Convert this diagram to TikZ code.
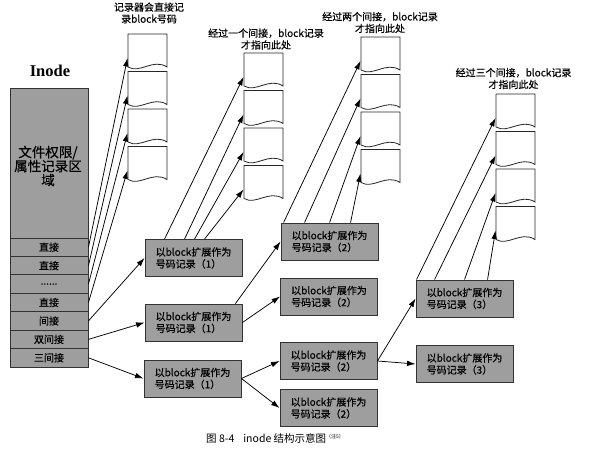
\documentclass[tikz,border=0pt]{standalone}
\usepackage{fontspec}
\setmainfont{Noto Sans CJK SC}[FakeBold=0.5]
\newfontfamily\capfont{Noto Sans CJK SC}
\newfontfamily\titlefont{Liberation Serif}
\usetikzlibrary{arrows.meta}
\begin{document}
\begin{tikzpicture}[x=1pt,y=-1pt,
  graybox/.style={draw=black!80, line width=0.9pt, fill=black!38, inner sep=0pt},
  box/.style={graybox, minimum width=97pt, minimum height=37pt, font=\fontsize{10}{12}\selectfont, align=left},
  row/.style={graybox, minimum width=78pt, minimum height=18.43pt, font=\fontsize{10}{12}\selectfont},
  conn/.style={line width=0.75pt, -{Latex[length=8.5pt,width=5.5pt]}},
  lbl/.style={font=\fontsize{10}{11.8}\selectfont, align=center, inner sep=0pt},
  blk/.style={draw=black!85, line width=0.8pt, fill=white}
]
\useasboundingbox[fill=white] (0,0) rectangle (602,451);

% inode
\node[font=\titlefont\bfseries\fontsize{16.5}{18}\selectfont, inner sep=0pt] (title) at (50,71) {Inode};
\node[graybox, minimum width=78pt, minimum height=150pt] (attr) at (49,163) {};
\node[font=\fontsize{13.5}{14}\selectfont, align=center, inner sep=0pt] (attrtxt) at (48,166) {文件权限/\\属性记录区\\域};
\foreach \i/\t in {1/直接,2/直接,3/{......},4/直接,5/间接,6/双间接,7/三间接}
  \node[row] (r\i) at (49,{238+18.43*(\i-0.5)}) {\t};

% data block columns
\foreach \k/\x/\y in {1/128/34, 2/244/53, 3/361/37, 4/496/94} {
  \foreach \j in {1,...,4} {
    \pgfmathsetmacro\t{\y+37.5*(\j-1)}
    \draw[blk] (\x,\t) -- ({\x+39},\t) -- ({\x+39},{\t+33})
      .. controls ({\x+25},{\t+24}) and ({\x+12},{\t+40}) .. (\x,{\t+33}) -- cycle;
    \coordinate (c\k-\j) at ({\x-0.5},{\t+24});
  }
}

% column labels
\node[lbl] (l1) at (149,13) {记录器会直接记\\录block号码};
\node[lbl] (l2) at (266,39) {经过一个间接，block记录\\才指向此处};
\node[lbl] (l3) at (380,22.5) {经过两个间接，block记录\\才指向此处};
\node[lbl] (l4) at (513.5,78.5) {经过三个间接，block记录\\才指向此处};

% pointer boxes
\node[box] (A) at (193.5,258) {以block扩展作为\\号码记录（1）};
\node[box] (B) at (193.5,322.5) {以block扩展作为\\号码记录（1）};
\node[box] (C) at (192.5,378.5) {以block扩展作为\\号码记录（1）};
\node[box] (D) at (329.5,241.5) {以block扩展作为\\号码记录（2）};
\node[box] (E) at (329,296.5) {以block扩展作为\\号码记录（2）};
\node[box] (F) at (328.5,361) {以block扩展作为\\号码记录（2）};
\node[box] (G) at (328.5,408) {以block扩展作为\\号码记录（2）};
\node[box] (H) at (464.5,298.5) {以block扩展作为\\号码记录（3）};
\node[box] (I) at (464.5,364) {以block扩展作为\\号码记录（3）};

% connectors
\foreach \i in {1,...,4} \draw[conn] (r\i.east) -- (c1-\i);
\draw[conn] (r5.east) -- (A.west);
\draw[conn] (r6.east) -- (B.west);
\draw[conn] (r7.east) -- (C.west);
\foreach \i/\dx in {1/20,2/40,3/50,4/60}
  \draw[conn] ([xshift=\dx pt]A.north west) -- (c2-\i);
\draw[conn] ([xshift=-7pt]B.north east) -- (D.west);
\draw[conn] (B.east) -- (E.west);
\draw[conn] (C.east) -- (F.west);
\draw[conn] (C.east) -- (G.west);
\foreach \i/\dx in {1/3,2/24,3/49,4/70}
  \draw[conn] ([xshift=\dx pt]D.north west) -- (c3-\i);
\draw[conn] (F.east) -- (H.west);
\draw[conn] (F.east) -- (I.west);
\foreach \i/\dx in {1/1,2/19,3/49,4/72}
  \draw[conn] ([xshift=\dx pt]H.north west) -- (c4-\i);

% caption
\node[anchor=west, font=\capfont\fontsize{10.5}{12}\selectfont, inner sep=0pt] (cap) at (206,438)
  {图 8-4\hspace{9pt}inode 结构示意图\raisebox{4pt}{\fontsize{5}{6}\selectfont（注5）}};
\end{tikzpicture}
\end{document}
